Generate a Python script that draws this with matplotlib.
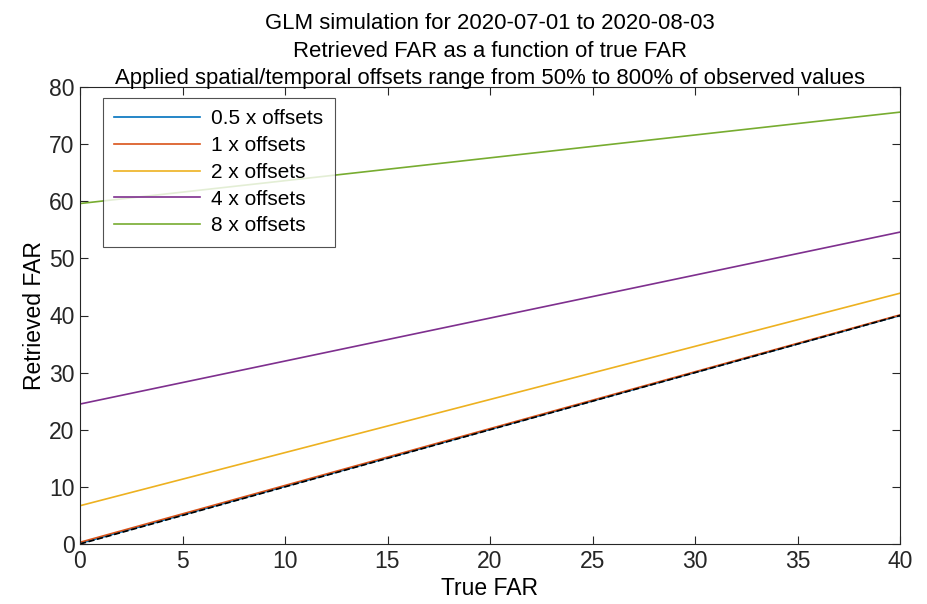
import numpy as np
import matplotlib.pyplot as plt

plt.rcParams['font.family'] = ['Liberation Sans', 'DejaVu Sans']

# line end points (true FAR -> retrieved FAR)
true_far = [0, 40]
labels = ['0.5 x offsets', '1 x offsets', '2 x offsets', '4 x offsets', '8 x offsets']
retrieved = [
    [0.1, 40.0],
    [0.3, 40.1],
    [6.7, 43.9],
    [24.5, 54.6],
    [59.6, 75.6],
]
one_to_one = [0, 40]
colors = ['#0072BD', '#D95319', '#EDB120', '#7E2F8E', '#77AC30']

fig = plt.figure(figsize=(9.28, 6.04), dpi=100)
ax = fig.add_axes([80 / 928, 1 - 544 / 604, 820 / 928, 457 / 604])

for y, lab, c in zip(retrieved, labels, colors):
    ax.plot(true_far, y, color=c, linewidth=1.2, label=lab)
ax.plot(true_far, one_to_one, 'k--', linewidth=1.2)

ax.set_xlim(0, 40)
ax.set_ylim(0, 80)
ax.set_xticks(np.arange(0, 41, 5))
ax.set_yticks(np.arange(0, 81, 10))
ax.tick_params(direction='in', top=True, right=True, labelsize=16.5,
               length=6, width=0.8, colors='#262626', pad=4)
for s in ax.spines.values():
    s.set_color('#262626')
    s.set_linewidth(0.8)
ax.set_xlabel('True FAR', fontsize=16.5, labelpad=3)
ax.set_ylabel('Retrieved FAR', fontsize=16.5, labelpad=2)
ax.set_title('GLM simulation for 2020-07-01 to 2020-08-03\n'
             'Retrieved FAR as a function of true FAR\n'
             'Applied spatial/temporal offsets range from 50% to 800% of observed values',
             fontsize=15.9, linespacing=1.4, pad=2)

leg = ax.legend(loc='upper left', bbox_to_anchor=(0.028, 0.976), fontsize=15,
                handlelength=4.1, frameon=True, fancybox=False,
                edgecolor='#262626', borderpad=0.55, labelspacing=0.37,
                handletextpad=0.55, borderaxespad=0)
leg.get_frame().set_linewidth(0.8)

fig.savefig('out.png', dpi=100)
